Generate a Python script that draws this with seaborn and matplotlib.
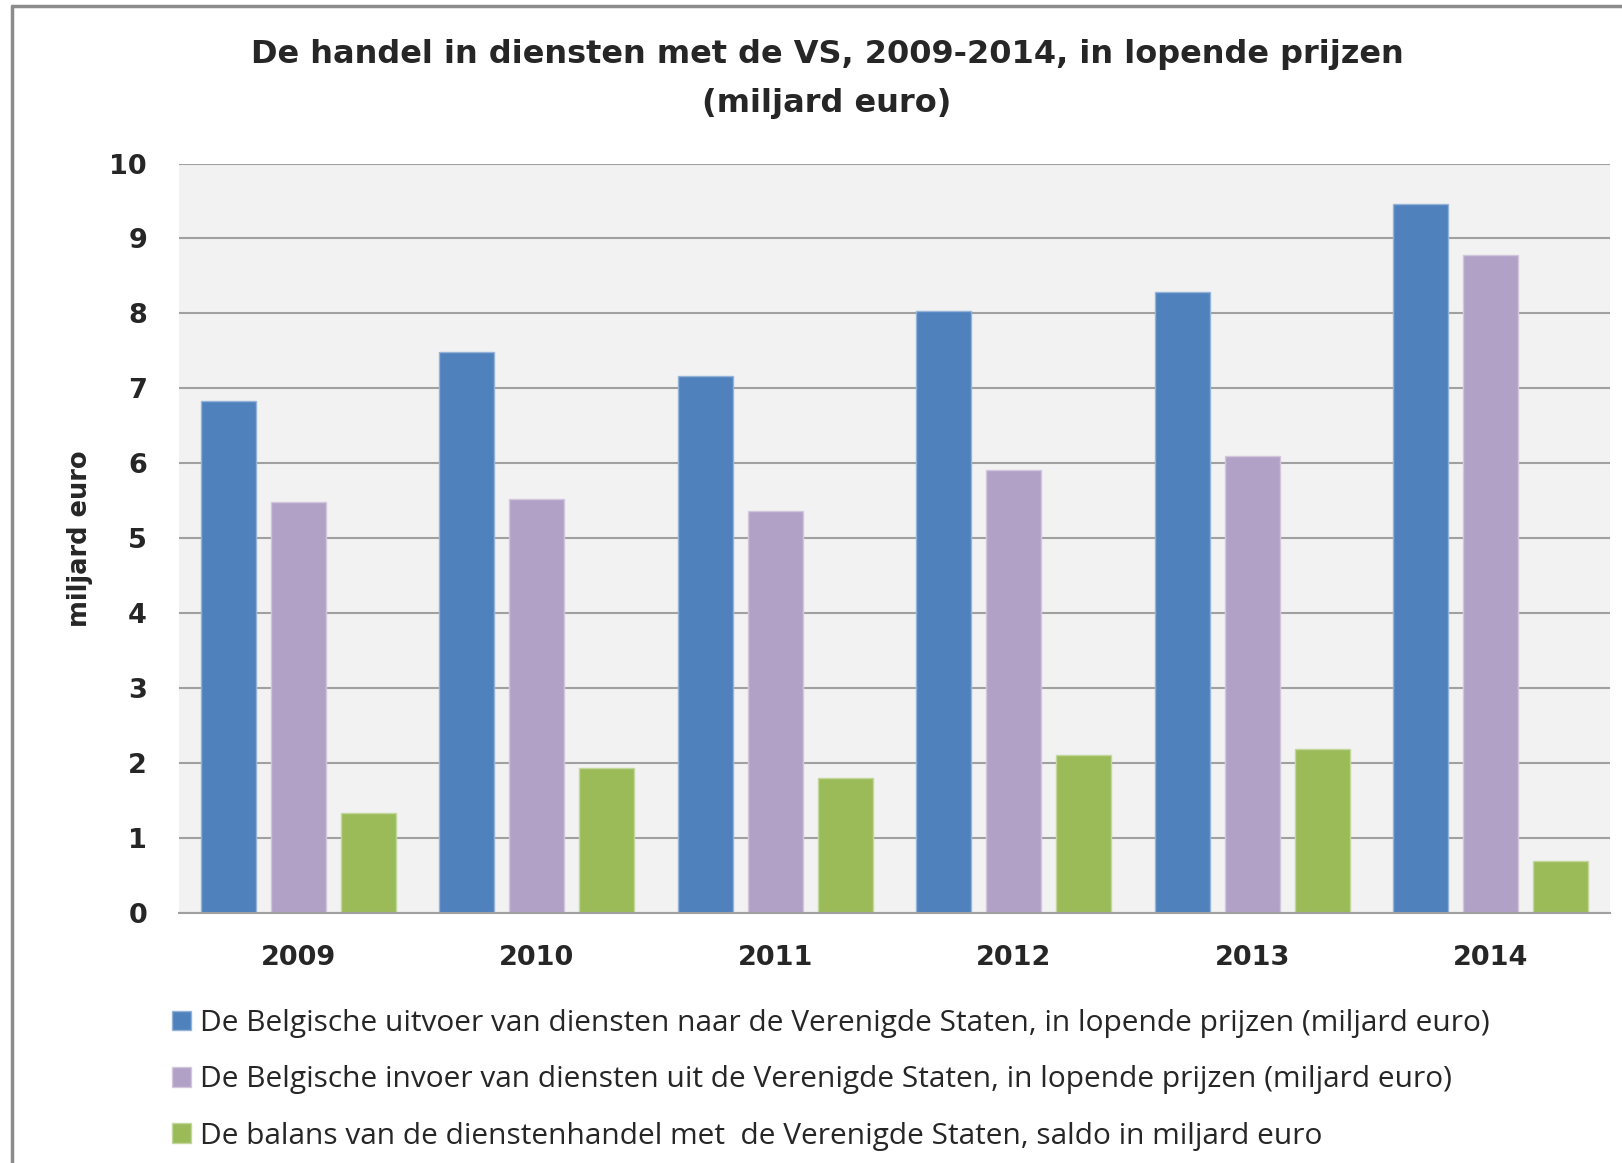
import matplotlib
matplotlib.use("Agg")
import matplotlib.pyplot as plt
import matplotlib.colors as mcolors
from matplotlib.lines import Line2D
import pandas as pd
import seaborn as sns

YEARS = ["2009", "2010", "2011", "2012", "2013", "2014"]
SERIES = [
    "De Belgische uitvoer van diensten naar de Verenigde Staten, in lopende prijzen (miljard euro)",
    "De Belgische invoer van diensten uit de Verenigde Staten, in lopende prijzen (miljard euro)",
    "De balans van de dienstenhandel met  de Verenigde Staten, saldo in miljard euro",
]
EXPORT = [6.83, 7.48, 7.17, 8.03, 8.29, 9.46]
IMPORT = [5.49, 5.52, 5.36, 5.91, 6.10, 8.78]
BALANCE = [1.33, 1.94, 1.80, 2.11, 2.19, 0.69]
Y_TICKS = [0, 1, 2, 3, 4, 5, 6, 7, 8, 9, 10]

COLORS = ["#4F81BD", "#B2A1C7", "#9BBB59"]
TITLE = "De handel in diensten met de VS, 2009-2014, in lopende prijzen\n(miljard euro)"

W, H = 1622, 1163

sns.set_theme(style="white")
plt.rcParams['font.family'] = ['DejaVu Sans']

df = pd.DataFrame({
    "year": YEARS * 3,
    "series": [SERIES[0]] * 6 + [SERIES[1]] * 6 + [SERIES[2]] * 6,
    "value": EXPORT + IMPORT + BALANCE,
})

fig = plt.figure(figsize=(W / 100, H / 100), dpi=100)
ax = fig.add_axes([179 / W, 1 - 913 / H, (1610 - 179) / W, (913 - 163.5) / H])
ax.set_facecolor("#F2F2F2")

sns.barplot(data=df, x="year", y="value", hue="series", palette=COLORS,
            width=0.88, gap=0.21, saturation=1, ax=ax, legend=True)

# lighter outline like the spreadsheet bars
for patch in ax.patches:
    fc = mcolors.to_rgb(patch.get_facecolor())
    ec = tuple(0.6 * c + 0.4 for c in fc)
    patch.set_edgecolor(ec)
    patch.set_linewidth(1.0)

ax.set_ylim(0, 10)
ax.set_yticks(Y_TICKS)
ax.set_xlim(-0.5, 5.5)
ax.yaxis.grid(True, color="#A0A0A0", linewidth=1.5)
ax.set_axisbelow(True)
for side in ["left", "right", "top"]:
    ax.spines[side].set_visible(False)
ax.spines["bottom"].set_color("#A0A0A0")
ax.spines["bottom"].set_linewidth(1.5)
ax.tick_params(axis="both", length=0, labelsize=19.5)
ax.tick_params(axis="y", pad=23)
ax.tick_params(axis="x", pad=23)
for lab in ax.get_xticklabels() + ax.get_yticklabels():
    lab.set_fontweight("bold")
ax.set_xlabel("")
ax.set_ylabel("miljard euro", fontsize=18.5, fontweight="bold", labelpad=12)

# legend below the chart
handles, labels = ax.get_legend_handles_labels()
ax.get_legend().remove()
fig.legend(handles, labels, loc="upper left", bbox_to_anchor=(172 / W, 1 - 1009 / H),
           frameon=False, handlelength=0.65, handleheight=0.65, handletextpad=0.3,
           labelspacing=0.92, borderpad=0, borderaxespad=0,
           prop={"family": "Open Sans", "size": 21.5})

fig.text(827 / W, 1 - 79 / H, TITLE, ha="center", va="center", fontsize=23,
         fontweight="bold", linespacing=1.75)

# outer frame of the chart object
fig.add_artist(Line2D([12 / W, 12 / W], [0, 1 - 6 / H], color="#8C8C8C", linewidth=2.5))
fig.add_artist(Line2D([12 / W, 1], [1 - 6 / H, 1 - 6 / H], color="#8C8C8C", linewidth=2.5))

fig.savefig("out.png", dpi=100)
